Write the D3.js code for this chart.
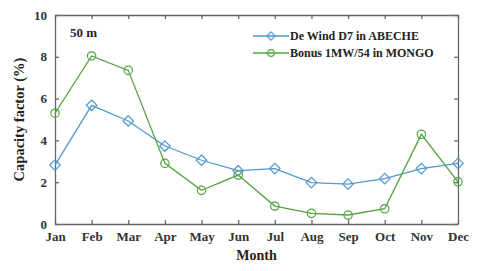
<!DOCTYPE html>
<html>
<head>
<meta charset="utf-8">
<script src="https://cdn.jsdelivr.net/npm/d3@7"></script>
<style>
  body { margin: 0; background: #fff; }
  text { font-family: "Liberation Serif", "Times New Roman", serif; font-weight: bold; }
</style>
</head>
<body>
<div id="chart"></div>
<script>
const months = ['Jan', 'Feb', 'Mar', 'Apr', 'May', 'Jun', 'Jul', 'Aug', 'Sep', 'Oct', 'Nov', 'Dec'];
const abeche = [2.82, 5.68, 4.93, 3.73, 3.05, 2.55, 2.65, 1.98, 1.91, 2.17, 2.65, 2.9];
const mongo = [5.3, 8.04, 7.35, 2.9, 1.61, 2.34, 0.86, 0.51, 0.43, 0.73, 4.29, 2.02];
const yTicks = [0, 2, 4, 6, 8, 10];

const series = [
    { label: 'De Wind D7 in ABECHE', values: abeche, color: '#4f98cd', marker: 'diamond' },
    { label: 'Bonus 1MW/54 in MONGO', values: mongo, color: '#52a240', marker: 'circle' }
];

const W = 480, H = 271;
const margin = { top: 15, right: 22, bottom: 47, left: 55 };
const width = W - margin.left - margin.right;
const height = H - margin.top - margin.bottom;

const svg = d3.select('#chart').append('svg')
    .attr('width', W)
    .attr('height', H);

const g = svg.append('g')
    .attr('transform', 'translate(' + margin.left + ',' + margin.top + ')');

const x = d3.scalePoint().domain(months).range([0, width]);
const y = d3.scaleLinear().domain([0, 10]).range([height, 0]);

const axisColor = '#666';

// ticks pointing inward, MATLAB style
const xAxis = g.append('g')
    .attr('transform', 'translate(0,' + height + ')')
    .call(d3.axisBottom(x).tickSizeInner(-4).tickSizeOuter(0).tickPadding(8));
const yAxis = g.append('g')
    .call(d3.axisLeft(y).tickValues(yTicks).tickSizeInner(-4).tickSizeOuter(0).tickPadding(8));
const xTop = g.append('g')
    .call(d3.axisTop(x).tickSizeInner(-4).tickSizeOuter(0).tickFormat(''));
const yRight = g.append('g')
    .attr('transform', 'translate(' + width + ',0)')
    .call(d3.axisRight(y).tickValues(yTicks).tickSizeInner(-4).tickSizeOuter(0).tickFormat(''));

[xAxis, yAxis, xTop, yRight].forEach(a => {
    a.selectAll('path, line').attr('stroke', axisColor).attr('stroke-width', 1.3);
    a.selectAll('text')
        .attr('fill', '#333')
        .style('font-family', '"Liberation Serif", serif')
        .style('font-weight', 'bold')
        .style('font-size', '13px');
});

const line = d3.line()
    .x((d, i) => x(months[i]))
    .y(d => y(d));

series.forEach(s => {
    g.append('path')
        .datum(s.values)
        .attr('fill', 'none')
        .attr('stroke', s.color)
        .attr('stroke-width', 1.3)
        .attr('d', line);

    const sym = d3.symbol()
        .type(s.marker === 'diamond' ? d3.symbolDiamond2 : d3.symbolCircle)
        .size(s.marker === 'diamond' ? 70 : 55);

    g.selectAll('.m-' + s.marker)
        .data(s.values)
        .enter().append('path')
        .attr('class', 'm-' + s.marker)
        .attr('transform', (d, i) => 'translate(' + x(months[i]) + ',' + y(d) + ')')
        .attr('d', sym())
        .attr('fill', 'none')
        .attr('stroke', s.color)
        .attr('stroke-width', 1.2);
});

// legend
const legend = g.selectAll('.legend')
    .data(series)
    .enter().append('g')
    .attr('class', 'legend')
    .attr('transform', (d, i) => 'translate(198,' + (21 + i * 17) + ')');

legend.append('line')
    .attr('x1', 0).attr('x2', 36)
    .attr('stroke', d => d.color)
    .attr('stroke-width', 1.3);

legend.append('path')
    .attr('transform', 'translate(18,0)')
    .attr('d', d => d3.symbol()
        .type(d.marker === 'diamond' ? d3.symbolDiamond2 : d3.symbolCircle)
        .size(d.marker === 'diamond' ? 45 : 35)())
    .attr('fill', 'none')
    .attr('stroke', d => d.color)
    .attr('stroke-width', 1.1);

legend.append('text')
    .attr('x', 37)
    .attr('y', 4)
    .style('font-size', '12px')
    .attr('fill', '#222')
    .text(d => d.label);

g.append('text')
    .attr('x', 15)
    .attr('y', 22)
    .style('font-size', '13px')
    .attr('fill', '#222')
    .text('50 m');

svg.append('text')
    .attr('x', margin.left + width / 2)
    .attr('y', 260)
    .attr('text-anchor', 'middle')
    .style('font-size', '14px')
    .attr('fill', '#222')
    .text('Month');

svg.append('text')
    .attr('transform', 'translate(24,' + (margin.top + height / 2) + ') rotate(-90)')
    .attr('text-anchor', 'middle')
    .style('font-size', '14.5px')
    .attr('fill', '#222')
    .text('Capacity factor (%)');
</script>
</body>
</html>
